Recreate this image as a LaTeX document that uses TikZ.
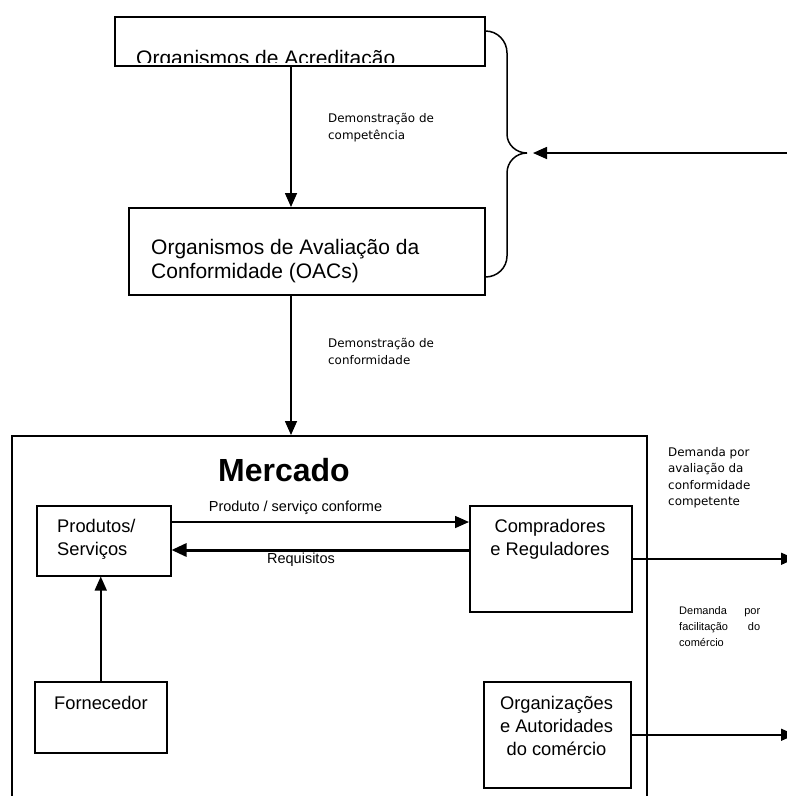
\documentclass[tikz,border=0pt]{standalone}
\usepackage{fontspec}
\setmainfont{Liberation Sans}
\newfontfamily\verd{DejaVu Sans}
\usetikzlibrary{arrows.meta,calc}
\begin{document}
\begin{tikzpicture}[x=1pt,y=-1pt,
  box/.style={draw,line width=1.5pt,anchor=north west,inner sep=0pt},
  flow/.style={line width=1.6pt,-{Triangle[length=14pt,width=12pt]}},
  heavyflow/.style={line width=3pt,-{Triangle[length=15pt,width=13pt]}},
  brace/.style={line width=1.5pt,rounded corners=0pt},
  bigtext/.style={inner sep=0pt,anchor=base west,font=\fontsize{21}{24}\selectfont},
  boxtext/.style={inner sep=0pt,anchor=base,font=\fontsize{18.3}{23}\selectfont},
  flowtext/.style={inner sep=0pt,anchor=base,font=\fontsize{14.5}{17}\selectfont},
  note/.style={inner sep=0pt,anchor=base west,font=\verd\fontsize{11.9}{16.5}\selectfont},
  narrownote/.style={inner sep=0pt,anchor=base west,font=\fontsize{11}{16}\selectfont}
]
\useasboundingbox (0,0) rectangle (787,796);

% helper rows and columns
\coordinate (colA) at (291,0);
\coordinate (braceTop) at (0,31);
\coordinate (braceBot) at (0,277);
\coordinate (brtip) at (527,153);
\coordinate (rightIn) at (795,153);
\coordinate (rowA) at (0,522);
\coordinate (rowB) at (0,550);
\coordinate (outR) at (795,0);

% accreditation bodies (text cut off by the frame)
\node[box,minimum width=370pt,minimum height=49pt] (acred) at (114,16) {};
\begin{scope}
  \clip (114,16) rectangle (484,62.8);
  \node[bigtext] (acredtxt) at (136,65.8) {Organismos de Acreditação};
\end{scope}

% conformity assessment bodies
\node[box,minimum width=356pt,minimum height=87pt] (oac) at (128,207) {};
\node[bigtext] (oactxt) at (151,254)
  {\parbox[t]{320pt}{\raggedright Organismos de Avaliação da\\Conformidade (OACs)}};

% the brace gathering both bodies
\draw[brace] (acred.east |- braceTop) to[out=0,in=90] (507,53) -- (507,134)
  to[out=-90,in=180] (brtip) to[out=180,in=90] (507,173) -- (507,256)
  to[out=-90,in=0] (oac.east |- braceBot);
\draw[flow] (rightIn) -- ($(brtip)+(6,0)$);

% vertical flows
\draw[flow] (acred.south -| colA) -- (oac.north -| colA);
\node[note] (lab1) at (328,122.5)
  {\parbox[t]{130pt}{\raggedright Demonstração de\\competência}};

\node[box,minimum width=635pt,minimum height=430pt] (mercado) at (11,435) {};
\draw[flow] (oac.south -| colA) -- (mercado.north -| colA);
\node[note] (lab2) at (328,347.5)
  {\parbox[t]{130pt}{\raggedright Demonstração de\\conformidade}};

\node[inner sep=0pt,anchor=base west,font=\bfseries\fontsize{32}{36}\selectfont] (merctxt) at (218,481) {Mercado};

% market boxes
\node[box,minimum width=134pt,minimum height=70pt] (prod) at (36,505) {};
\node[boxtext,anchor=base west] (prodtxt) at (57,532)
  {\parbox[t]{110pt}{\raggedright Produtos/\\Serviços}};

\node[box,minimum width=162pt,minimum height=106pt] (comp) at (469,505) {};
\node[boxtext] (comptxt) at (550,532)
  {\parbox[t]{150pt}{\centering Compradores\\e Reguladores}};

\node[box,minimum width=132pt,minimum height=71pt] (forn) at (34,681) {};
\node[boxtext,anchor=base west] (forntxt) at (54,709) {Fornecedor};

\node[box,minimum width=147pt,minimum height=106pt] (org) at (483,681) {};
\node[boxtext] (orgtxt) at (556.5,709)
  {\parbox[t]{140pt}{\centering Organizações\\e Autoridades\\do comércio}};

% flows inside the market
\draw[flow] (prod.east |- rowA) -- (comp.west |- rowA);
\node[flowtext] (conf) at (295.5,511) {Produto / serviço conforme};
\draw[heavyflow] (comp.west |- rowB) -- (prod.east |- rowB);
\node[flowtext] (req) at (301,563) {Requisitos};
\draw[flow] (forn.north) -- (forn.north |- prod.south);

% demands leaving the market
\draw[flow] (comp.east) -- (comp.east -| outR);
\draw[flow] (org.east) -- (org.east -| outR);
\node[note] (lab3) at (668,456)
  {\parbox[t]{110pt}{\raggedright Demanda por\\avaliação da\\conformidade\\competente}};
\node[narrownote] (lab4) at (679,614)
  {\parbox[t]{81pt}{\makebox[81pt]{Demanda\hfill por}\\\makebox[81pt]{facilitação\hfill do}\\comércio}};
\end{tikzpicture}
\end{document}
